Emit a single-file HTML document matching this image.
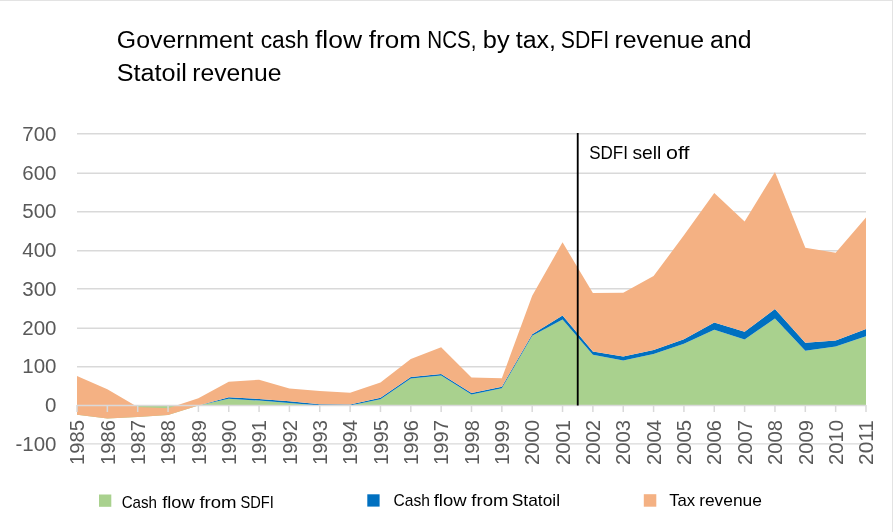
<!DOCTYPE html>
<html><head><meta charset="utf-8"><style>
html,body{margin:0;padding:0;background:#fff;}
body{width:893px;height:532px;overflow:hidden;position:relative;font-family:"Liberation Sans",sans-serif;}
svg{position:absolute;left:0;top:0;will-change:transform;}
text{font-family:"Liberation Sans",sans-serif;}
</style></head><body>
<svg width="893" height="532" viewBox="0 0 893 532">
<rect x="0" y="0" width="893" height="532" fill="#fff"/>
<rect x="0" y="0" width="893" height="1" fill="#e3e3e3"/>
<rect x="892" y="0" width="1" height="532" fill="#e3e3e3"/>
<g fill="#000"><text x="116.86" y="47.60" font-size="23.5" textLength="136.63" lengthAdjust="spacingAndGlyphs">Government</text><text x="260.69" y="47.60" font-size="23.5" textLength="48.15" lengthAdjust="spacingAndGlyphs">cash</text><text x="315.00" y="47.60" font-size="23.5" textLength="46.95" lengthAdjust="spacingAndGlyphs">flow</text><text x="368.81" y="47.60" font-size="23.5" textLength="51.98" lengthAdjust="spacingAndGlyphs">from</text><text x="427.35" y="47.60" font-size="23.5" textLength="49.18" lengthAdjust="spacingAndGlyphs">NCS,</text><text x="482.85" y="47.60" font-size="23.5" textLength="26.78" lengthAdjust="spacingAndGlyphs">by</text><text x="515.73" y="47.60" font-size="23.5" textLength="40.24" lengthAdjust="spacingAndGlyphs">tax,</text><text x="560.84" y="47.60" font-size="23.5" textLength="48.43" lengthAdjust="spacingAndGlyphs">SDFI</text><text x="614.49" y="47.60" font-size="23.5" textLength="89.60" lengthAdjust="spacingAndGlyphs">revenue</text><text x="710.11" y="47.60" font-size="23.5" textLength="41.39" lengthAdjust="spacingAndGlyphs">and</text><text x="116.77" y="80.90" font-size="23.5" textLength="70.08" lengthAdjust="spacingAndGlyphs">Statoil</text><text x="192.29" y="80.90" font-size="23.5" textLength="89.29" lengthAdjust="spacingAndGlyphs">revenue</text></g>
<g stroke="#d9d9d9" stroke-width="1.4"><line x1="77" x2="866" y1="133.80" y2="133.80"/><line x1="77" x2="866" y1="173.20" y2="173.20"/><line x1="77" x2="866" y1="211.70" y2="211.70"/><line x1="77" x2="866" y1="250.80" y2="250.80"/><line x1="77" x2="866" y1="288.80" y2="288.80"/><line x1="77" x2="866" y1="328.30" y2="328.30"/><line x1="77" x2="866" y1="366.80" y2="366.80"/><line x1="77" x2="866" y1="443.90" y2="443.90"/></g>
<path d="M77.00,414.73 L107.35,418.60 L137.69,417.05 L168.04,415.12 L198.38,405.43 L228.73,398.84 L259.08,400.59 L289.42,402.91 L319.77,405.43 L350.12,405.43 L380.46,399.23 L410.81,378.50 L441.15,375.59 L471.50,394.58 L501.85,388.19 L532.19,335.69 L562.54,319.41 L592.88,354.67 L623.23,360.48 L653.58,353.90 L683.92,343.82 L714.27,329.87 L744.62,339.56 L774.96,318.40 L805.31,350.80 L835.65,346.53 L866.00,336.23 L866.00,405.43 L835.65,405.43 L805.31,405.43 L774.96,405.43 L744.62,405.43 L714.27,405.43 L683.92,405.43 L653.58,405.43 L623.23,405.43 L592.88,405.43 L562.54,405.43 L532.19,405.43 L501.85,405.43 L471.50,405.43 L441.15,405.43 L410.81,405.43 L380.46,405.43 L350.12,405.43 L319.77,405.43 L289.42,405.43 L259.08,405.43 L228.73,405.43 L198.38,405.43 L168.04,405.43 L137.69,405.43 L107.35,405.43 L77.00,405.43Z" fill="#a9d18e"/>
<path d="M77.00,414.73 L107.35,418.60 L137.69,417.05 L168.04,415.12 L198.38,405.43 L228.73,397.29 L259.08,399.04 L289.42,401.36 L319.77,404.27 L350.12,404.46 L380.46,397.68 L410.81,376.95 L441.15,374.04 L471.50,393.03 L501.85,386.64 L532.19,334.14 L562.54,315.54 L592.88,351.57 L623.23,356.61 L653.58,350.02 L683.92,339.17 L714.27,322.51 L744.62,331.81 L774.96,308.95 L805.31,342.66 L835.65,340.53 L866.00,329.10 L866.00,336.23 L835.65,346.53 L805.31,350.80 L774.96,318.40 L744.62,339.56 L714.27,329.87 L683.92,343.82 L653.58,353.90 L623.23,360.48 L592.88,354.67 L562.54,319.41 L532.19,335.69 L501.85,388.19 L471.50,394.58 L441.15,375.59 L410.81,378.50 L380.46,399.23 L350.12,405.43 L319.77,405.43 L289.42,402.91 L259.08,400.59 L228.73,398.84 L198.38,405.43 L168.04,415.12 L137.69,417.05 L107.35,418.60 L77.00,414.73Z" fill="#0070c0"/>
<path d="M77.00,375.98 L107.35,389.35 L137.69,406.98 L168.04,408.14 L198.38,398.26 L228.73,381.79 L259.08,379.66 L289.42,388.38 L319.77,391.09 L350.12,392.80 L380.46,382.57 L410.81,358.93 L441.15,347.31 L471.50,377.53 L501.85,378.31 L532.19,295.78 L562.54,242.31 L592.88,293.06 L623.23,292.68 L653.58,276.02 L683.92,235.33 L714.27,193.10 L744.62,221.38 L774.96,171.98 L805.31,247.73 L835.65,252.77 L866.00,217.51 L866.00,329.10 L835.65,340.53 L805.31,342.66 L774.96,308.95 L744.62,331.81 L714.27,322.51 L683.92,339.17 L653.58,350.02 L623.23,356.61 L592.88,351.57 L562.54,315.54 L532.19,334.14 L501.85,386.64 L471.50,393.03 L441.15,374.04 L410.81,376.95 L380.46,397.68 L350.12,404.46 L319.77,404.27 L289.42,401.36 L259.08,399.04 L228.73,397.29 L198.38,405.43 L168.04,415.12 L137.69,417.05 L107.35,418.60 L77.00,414.73Z" fill="#f4b183"/>
<g stroke="#d9d9d9" stroke-width="1.5"><line x1="77" x2="866" y1="405.6" y2="405.6"/><line x1="77.00" x2="77.00" y1="405" y2="412"/><line x1="107.35" x2="107.35" y1="405" y2="412"/><line x1="137.69" x2="137.69" y1="405" y2="412"/><line x1="168.04" x2="168.04" y1="405" y2="412"/><line x1="198.38" x2="198.38" y1="405" y2="412"/><line x1="228.73" x2="228.73" y1="405" y2="412"/><line x1="259.08" x2="259.08" y1="405" y2="412"/><line x1="289.42" x2="289.42" y1="405" y2="412"/><line x1="319.77" x2="319.77" y1="405" y2="412"/><line x1="350.12" x2="350.12" y1="405" y2="412"/><line x1="380.46" x2="380.46" y1="405" y2="412"/><line x1="410.81" x2="410.81" y1="405" y2="412"/><line x1="441.15" x2="441.15" y1="405" y2="412"/><line x1="471.50" x2="471.50" y1="405" y2="412"/><line x1="501.85" x2="501.85" y1="405" y2="412"/><line x1="532.19" x2="532.19" y1="405" y2="412"/><line x1="562.54" x2="562.54" y1="405" y2="412"/><line x1="592.88" x2="592.88" y1="405" y2="412"/><line x1="623.23" x2="623.23" y1="405" y2="412"/><line x1="653.58" x2="653.58" y1="405" y2="412"/><line x1="683.92" x2="683.92" y1="405" y2="412"/><line x1="714.27" x2="714.27" y1="405" y2="412"/><line x1="744.62" x2="744.62" y1="405" y2="412"/><line x1="774.96" x2="774.96" y1="405" y2="412"/><line x1="805.31" x2="805.31" y1="405" y2="412"/><line x1="835.65" x2="835.65" y1="405" y2="412"/><line x1="866.00" x2="866.00" y1="405" y2="412"/></g>
<rect x="576.8" y="133" width="1.85" height="272.5" fill="#000"/>
<g fill="#000"><text x="589.13" y="158.70" font-size="18.6" textLength="38.75" lengthAdjust="spacingAndGlyphs">SDFI</text><text x="632.42" y="158.70" font-size="18.6" textLength="28.94" lengthAdjust="spacingAndGlyphs">sell</text><text x="666.04" y="158.70" font-size="18.6" textLength="23.43" lengthAdjust="spacingAndGlyphs">off</text></g>
<g font-size="20.5" fill="#595959" text-anchor="end"><text x="56.5" y="140.90">700</text><text x="56.5" y="179.65">600</text><text x="56.5" y="218.40">500</text><text x="56.5" y="257.14">400</text><text x="56.5" y="295.89">300</text><text x="56.5" y="334.64">200</text><text x="56.5" y="373.38">100</text><text x="56.5" y="412.13">0</text><text x="56.5" y="450.88">-100</text></g>
<g font-size="20.3" fill="#595959" text-anchor="end"><text transform="translate(84.20,420.0) rotate(-90)" textLength="45" lengthAdjust="spacingAndGlyphs">1985</text><text transform="translate(114.55,420.0) rotate(-90)" textLength="45" lengthAdjust="spacingAndGlyphs">1986</text><text transform="translate(144.89,420.0) rotate(-90)" textLength="45" lengthAdjust="spacingAndGlyphs">1987</text><text transform="translate(175.24,420.0) rotate(-90)" textLength="45" lengthAdjust="spacingAndGlyphs">1988</text><text transform="translate(205.58,420.0) rotate(-90)" textLength="45" lengthAdjust="spacingAndGlyphs">1989</text><text transform="translate(235.93,420.0) rotate(-90)" textLength="45" lengthAdjust="spacingAndGlyphs">1990</text><text transform="translate(266.28,420.0) rotate(-90)" textLength="45" lengthAdjust="spacingAndGlyphs">1991</text><text transform="translate(296.62,420.0) rotate(-90)" textLength="45" lengthAdjust="spacingAndGlyphs">1992</text><text transform="translate(326.97,420.0) rotate(-90)" textLength="45" lengthAdjust="spacingAndGlyphs">1993</text><text transform="translate(357.32,420.0) rotate(-90)" textLength="45" lengthAdjust="spacingAndGlyphs">1994</text><text transform="translate(387.66,420.0) rotate(-90)" textLength="45" lengthAdjust="spacingAndGlyphs">1995</text><text transform="translate(418.01,420.0) rotate(-90)" textLength="45" lengthAdjust="spacingAndGlyphs">1996</text><text transform="translate(448.35,420.0) rotate(-90)" textLength="45" lengthAdjust="spacingAndGlyphs">1997</text><text transform="translate(478.70,420.0) rotate(-90)" textLength="45" lengthAdjust="spacingAndGlyphs">1998</text><text transform="translate(509.05,420.0) rotate(-90)" textLength="45" lengthAdjust="spacingAndGlyphs">1999</text><text transform="translate(539.39,420.0) rotate(-90)" textLength="45" lengthAdjust="spacingAndGlyphs">2000</text><text transform="translate(569.74,420.0) rotate(-90)" textLength="45" lengthAdjust="spacingAndGlyphs">2001</text><text transform="translate(600.08,420.0) rotate(-90)" textLength="45" lengthAdjust="spacingAndGlyphs">2002</text><text transform="translate(630.43,420.0) rotate(-90)" textLength="45" lengthAdjust="spacingAndGlyphs">2003</text><text transform="translate(660.78,420.0) rotate(-90)" textLength="45" lengthAdjust="spacingAndGlyphs">2004</text><text transform="translate(691.12,420.0) rotate(-90)" textLength="45" lengthAdjust="spacingAndGlyphs">2005</text><text transform="translate(721.47,420.0) rotate(-90)" textLength="45" lengthAdjust="spacingAndGlyphs">2006</text><text transform="translate(751.82,420.0) rotate(-90)" textLength="45" lengthAdjust="spacingAndGlyphs">2007</text><text transform="translate(782.16,420.0) rotate(-90)" textLength="45" lengthAdjust="spacingAndGlyphs">2008</text><text transform="translate(812.51,420.0) rotate(-90)" textLength="45" lengthAdjust="spacingAndGlyphs">2009</text><text transform="translate(842.85,420.0) rotate(-90)" textLength="45" lengthAdjust="spacingAndGlyphs">2010</text><text transform="translate(873.20,420.0) rotate(-90)" textLength="45" lengthAdjust="spacingAndGlyphs">2011</text></g>
<rect x="99" y="494.5" width="12.3" height="12.3" fill="#a9d18e"/>
<rect x="367.3" y="494.3" width="12.3" height="12.3" fill="#0070c0"/>
<rect x="643.8" y="494.2" width="12.5" height="12.5" fill="#f4b183"/>
<g fill="#000"><text x="121.64" y="507.70" font-size="17" textLength="35.44" lengthAdjust="spacingAndGlyphs">Cash</text><text x="162.23" y="507.70" font-size="17" textLength="32.44" lengthAdjust="spacingAndGlyphs">flow</text><text x="199.42" y="507.70" font-size="17" textLength="37.19" lengthAdjust="spacingAndGlyphs">from</text><text x="240.44" y="507.70" font-size="17" textLength="33.32" lengthAdjust="spacingAndGlyphs">SDFI</text><text x="393.52" y="505.60" font-size="17" textLength="36.49" lengthAdjust="spacingAndGlyphs">Cash</text><text x="433.72" y="505.60" font-size="17" textLength="32.85" lengthAdjust="spacingAndGlyphs">flow</text><text x="471.32" y="505.60" font-size="17" textLength="37.08" lengthAdjust="spacingAndGlyphs">from</text><text x="511.82" y="505.60" font-size="17" textLength="48.18" lengthAdjust="spacingAndGlyphs">Statoil</text><text x="669.17" y="506.00" font-size="17" textLength="26.02" lengthAdjust="spacingAndGlyphs">Tax</text><text x="699.17" y="506.00" font-size="17" textLength="62.79" lengthAdjust="spacingAndGlyphs">revenue</text></g>
</svg>
</body></html>
